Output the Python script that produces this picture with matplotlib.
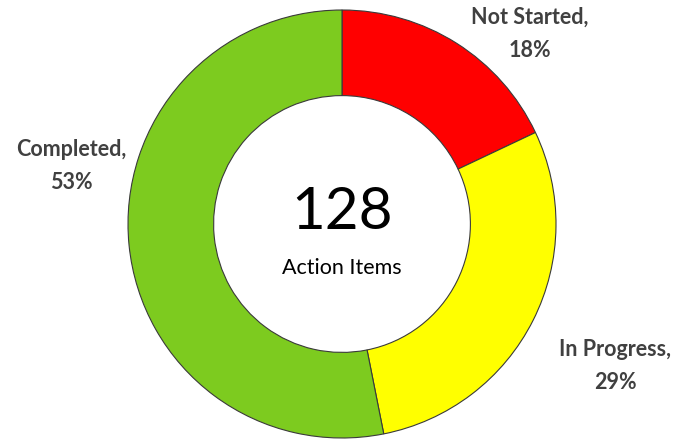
import matplotlib
matplotlib.use('Agg')
import matplotlib.pyplot as plt

labels = ['Not Started', 'In Progress', 'Completed']
counts = [23, 37, 68]
percents = ['18%', '29%', '53%']
colors = ['#FF0000', '#FFFF00', '#7DCB1F']
total = 128

fig = plt.figure(figsize=(6.83, 4.40), dpi=100)
ax = fig.add_axes([0, 0, 1, 1])

ax.pie(counts, colors=colors, startangle=90, counterclock=False,
       center=(342, 216), radius=214, frame=True,
       wedgeprops=dict(width=214 * 0.4, edgecolor='#3a3a3a', linewidth=0.8))
ax.set_xlim(0, 683)
ax.set_ylim(0, 440)
ax.axis('off')

# labels outside the ring (pixel positions)
label_pos = [(530, 406), (615, 74), (71, 274)]
for (x, y), name, pct in zip(label_pos, labels, percents):
    ax.text(x, y, f'{name},\n{pct}', ha='center', va='center',
            fontsize=15.5, fontweight='bold', color='#404040',
            family='Lato', linespacing=1.75)

ax.text(342, 228, str(total), ha='center', va='center', fontsize=42,
        family='Lato', color='black')
ax.text(342, 172, 'Action Items', ha='center', va='center', fontsize=15.5,
        family='Lato', color='black')

fig.savefig('out.png', dpi=100)
